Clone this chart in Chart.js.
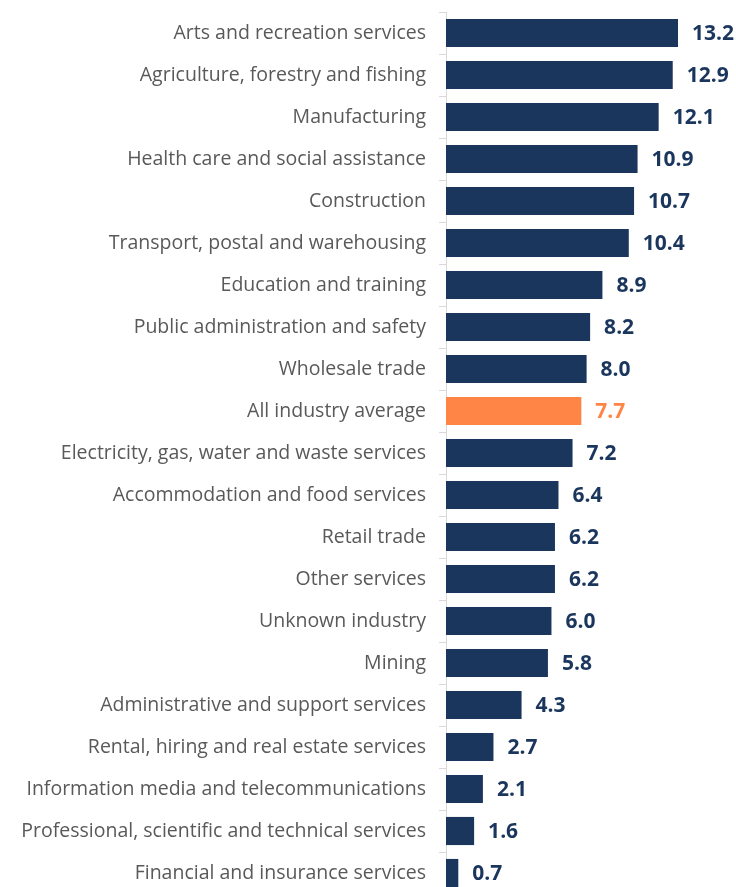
<!DOCTYPE html>
<html>
<head>
<meta charset="utf-8">
<script src="https://cdn.jsdelivr.net/npm/chart.js@4"></script>
<style>
  html, body { margin: 0; padding: 0; background: #fff; overflow: hidden; }
</style>
</head>
<body>
<canvas id="chart" width="736" height="896"></canvas>
<script>
const industries = [
  "Arts and recreation services",
  "Agriculture, forestry and fishing",
  "Manufacturing",
  "Health care and social assistance",
  "Construction",
  "Transport, postal and warehousing",
  "Education and training",
  "Public administration and safety",
  "Wholesale trade",
  "All industry average",
  "Electricity, gas, water and waste services",
  "Accommodation and food services",
  "Retail trade",
  "Other services",
  "Unknown industry",
  "Mining",
  "Administrative and support services",
  "Rental, hiring and real estate services",
  "Information media and telecommunications",
  "Professional, scientific and technical services",
  "Financial and insurance services"
];
const rates = [13.2, 12.9, 12.1, 10.9, 10.7, 10.4, 8.9, 8.2, 8.0, 7.7, 7.2, 6.4, 6.2, 6.2, 6.0, 5.8, 4.3, 2.7, 2.1, 1.6, 0.7];

const navy = "#1b365d";
const orange = "#ff8547";
const barColors = industries.map(name => name === "All industry average" ? orange : navy);

// draws the number just past the end of each bar
const valueLabels = {
  id: "valueLabels",
  afterDatasetsDraw(chart) {
    const ctx = chart.ctx;
    const meta = chart.getDatasetMeta(0);
    ctx.save();
    ctx.font = "bold 21px 'Open Sans'";
    ctx.textBaseline = "middle";
    ctx.textAlign = "left";
    meta.data.forEach((bar, i) => {
      ctx.fillStyle = barColors[i];
      ctx.fillText(rates[i].toFixed(1), bar.x + 14, bar.y + 1);
    });
    ctx.restore();
  }
};

new Chart(document.getElementById("chart"), {
  type: "bar",
  data: {
    labels: industries,
    datasets: [{
      data: rates,
      backgroundColor: barColors,
      categoryPercentage: 1,
      barPercentage: 0.67
    }]
  },
  options: {
    indexAxis: "y",
    responsive: false,
    animation: false,
    layout: { padding: { top: 12, bottom: 2, left: 0, right: 0 } },
    plugins: { legend: { display: false }, tooltip: { enabled: false } },
    scales: {
      x: { display: false, min: 0, max: 16.5 },
      y: {
        afterFit(scale) {
          scale.width = 446;
          scale.paddingTop = 0;
          scale.paddingBottom = 0;
        },
        border: { display: true, color: "#d9d9d9", width: 1 },
        grid: { drawOnChartArea: false, tickLength: 7, color: "#d9d9d9", offset: true },
        ticks: {
          color: "#595959",
          font: { family: "'Open Sans'", size: 19.5 },
          padding: 13,
          autoSkip: false
        }
      }
    }
  },
  plugins: [valueLabels]
});
</script>
</body>
</html>
